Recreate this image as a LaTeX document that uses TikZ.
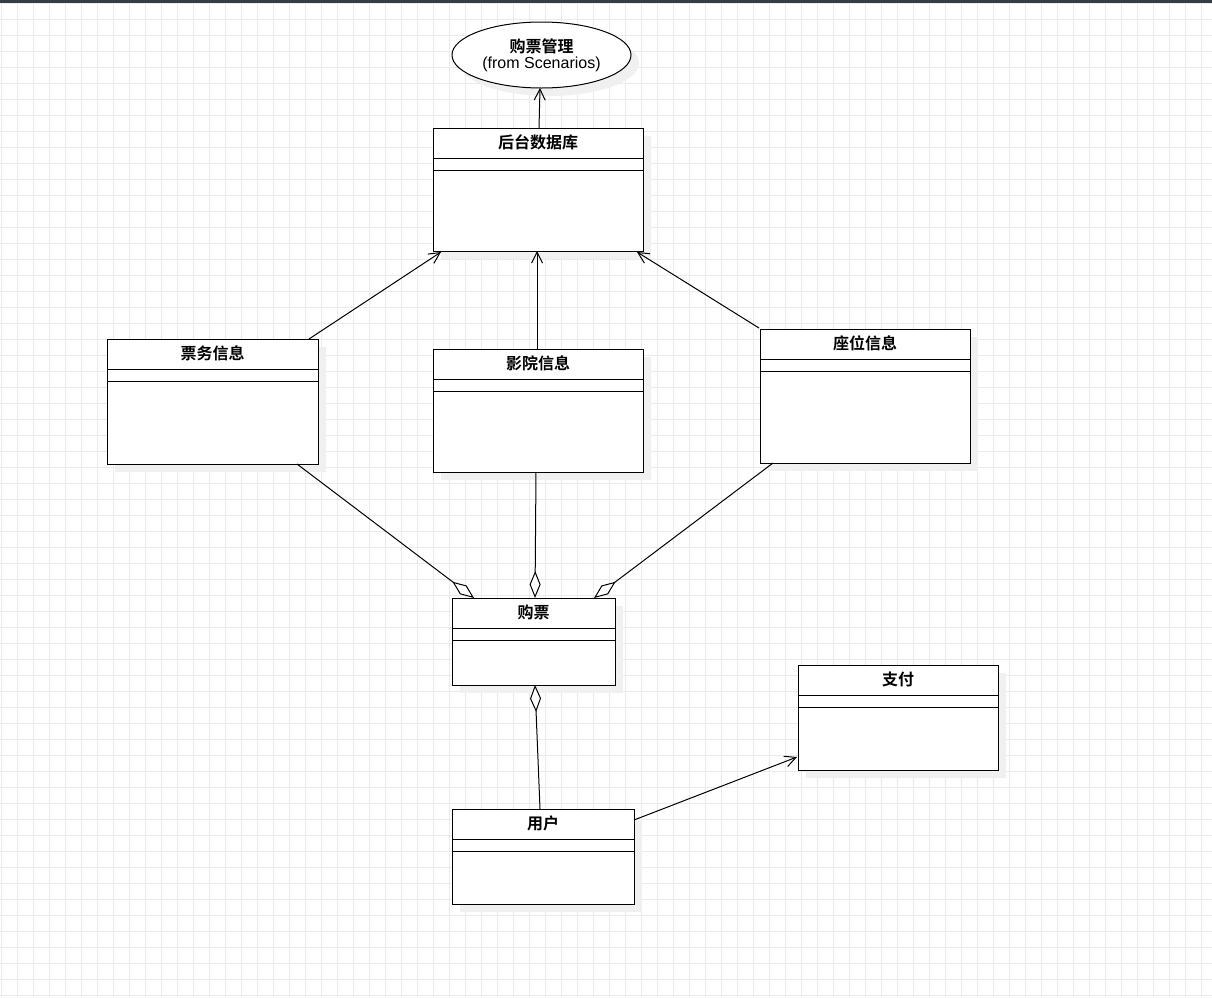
\documentclass[tikz,border=0pt]{standalone}
\usepackage{fontspec}
\setmainfont{Liberation Sans}
\newfontfamily\cjk{Noto Sans CJK SC}[BoldFont={Noto Sans CJK SC Bold}]
\usetikzlibrary{arrows.meta,shapes.geometric}
\definecolor{gridgray}{HTML}{EBEBEB}
\definecolor{shadowgray}{HTML}{F0F0F0}
\definecolor{topbar}{HTML}{363D42}
\begin{document}
\begin{tikzpicture}[x=1pt, y=-1pt, line width=1pt,
    umlclass/.style = {draw, fill=white, anchor=north west, inner sep=0pt,
                       rectangle, outer sep=0pt},
    classname/.style = {anchor=north, inner sep=0pt, yshift=-6pt,
                        font=\cjk\bfseries\fontsize{16}{18}\selectfont},
    usecase/.style = {draw, fill=white, ellipse, inner sep=0pt, outer sep=0pt,
                      minimum width=179pt, minimum height=66pt, align=center,
                      font=\fontsize{16}{19}\selectfont},
    assoc/.style = {-{Straight Barb[length=11pt,width=11pt,line width=1pt]}},
    agg/.style = {{Diamond[open,fill=white,length=27pt,width=11pt,line width=1pt]}-},
  ]
    % background and grid
    \useasboundingbox (0,0) rectangle (1212,997);
    \fill[white] (0,0) rectangle (1212,997);
    \foreach \gx in {1,17,...,1212} \draw[gridgray] (\gx,0) -- (\gx,997);
    \foreach \gy in {3,19,...,997} \draw[gridgray] (0,\gy) -- (1212,\gy);
    \fill[topbar] (0,0) rectangle (1212,3);

    % shadows
    \fill[shadowgray] (549.5,63) ellipse [x radius=89.5, y radius=33];
    \foreach \sx/\sy/\sw/\sh in {433/128/210/123, 107/339/211/125,
                                 433/349/210/123, 760/329/210/134,
                                 452/598/163/87, 798/665/200/105,
                                 452/809/182/95}
      \fill[shadowgray] (\sx+8,\sy+8) rectangle ++(\sw,\sh);

    % use case
    \node[usecase] (uc) at (541.5,55)
      {{\cjk\bfseries 购票管理}\\[-3pt](from Scenarios)};

    % classes
    \node[umlclass, minimum width=210pt, minimum height=123pt,
          label={[classname]north:后台数据库}] (db)   at (433,128) {};
    \node[umlclass, minimum width=211pt, minimum height=125pt,
          label={[classname]north:票务信息}]   (tix)  at (107,339) {};
    \node[umlclass, minimum width=210pt, minimum height=123pt,
          label={[classname]north:影院信息}]   (cin)  at (433,349) {};
    \node[umlclass, minimum width=210pt, minimum height=134pt,
          label={[classname]north:座位信息}]   (seat) at (760,329) {};
    \node[umlclass, minimum width=163pt, minimum height=87pt,
          label={[classname]north:购票}]       (buy)  at (452,598) {};
    \node[umlclass, minimum width=200pt, minimum height=105pt,
          label={[classname]north:支付}]       (pay)  at (798,665) {};
    \node[umlclass, minimum width=182pt, minimum height=95pt,
          label={[classname]north:用户}]       (user) at (452,809) {};

    % compartment lines
    \foreach \cls in {db,tix,cin,seat,buy,pay,user} {
      \draw ([shift={(0,30)}]\cls.north west) -- ([shift={(0,30)}]\cls.north east);
      \draw ([shift={(0,42)}]\cls.north west) -- ([shift={(0,42)}]\cls.north east);
    }

    % associations
    \draw[assoc] ([shift={(1,0)}]db.north) -- ([shift={(-1.5,0)}]uc.south);
    \draw[assoc] ([shift={(-9,0)}]tix.north east) -- ([shift={(8,1)}]db.south west);
    \draw[assoc] ([shift={(-1,0)}]cin.north) -- ([shift={(-1,0)}]db.south);
    \draw[assoc] ([shift={(-1,-1)}]seat.north west) -- ([shift={(-6,1)}]db.south east);
    \draw[assoc] ([shift={(0,11)}]user.north east) -- ([shift={(-1,-13)}]pay.south west);

    % aggregations
    \draw[agg] ([shift={(22,0)}]buy.north west) -- ([shift={(-21,0)}]tix.south east);
    \draw[agg] ([shift={(1.5,0)}]buy.north) -- ([shift={(-2,0)}]cin.south);
    \draw[agg] ([shift={(-21,0)}]buy.north east) -- ([shift={(13,0)}]seat.south west);
    \draw[agg] ([shift={(1.5,0)}]buy.south) -- ([shift={(-3,0)}]user.north);
  \end{tikzpicture}
\end{document}
